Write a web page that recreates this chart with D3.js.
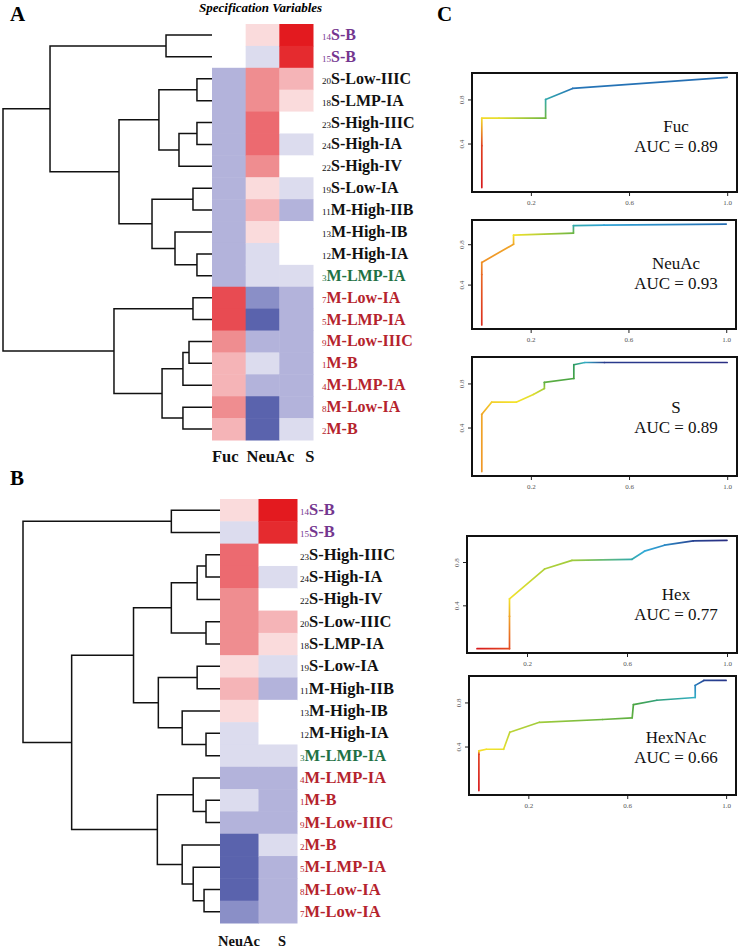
<!DOCTYPE html>
<html><head><meta charset="utf-8">
<script src="https://cdn.jsdelivr.net/npm/d3@7"></script>
<style>
body{margin:0;background:#fff;}
svg{display:block;font-family:"Liberation Serif","Times New Roman",serif;}
</style></head><body>
<svg id="fig" width="740" height="949"></svg>
<script>
// ---------------- DATA ----------------
// Panel A heatmap (levels: negative = blue, positive = red, 0 = white, null = empty)
const columnsA = ["Fuc", "NeuAc", "S"];
const rowNumsA = [14, 15, 20, 18, 23, 24, 22, 19, 11, 13, 12, 3, 7, 5, 9, 1, 4, 8, 2];
const rowNamesA = ["S-B", "S-B", "S-Low-IIIC", "S-LMP-IA", "S-High-IIIC", "S-High-IA", "S-High-IV", "S-Low-IA",
  "M-High-IIB", "M-High-IB", "M-High-IA", "M-LMP-IA", "M-Low-IA", "M-LMP-IA", "M-Low-IIIC", "M-B", "M-LMP-IA", "M-Low-IA", "M-B"];
const fucA   = [null, null, -2, -2, -2, -2, -2, -2, -2, -2, -2, -2, 5, 5, 3, 2, 2, 3, 2];
const neuAcA = [1, -1, 3, 3, 4, 4, 3, 1, 2, 1, -1, -1, -3, -4, -2, -1, -2, -4, -4];
const sA     = [7, 6, 2, 1, 0, -1, 0, -1, -2, 0, 0, -1, -2, -2, -2, -2, -2, -2, -1];
// hclust-style merges: negative = leaf (row index + 1), positive = earlier merge step; third = height
const mergeA = [
  [-1, -2, 2.2], [-3, -4, 0.72], [-5, -6, 0.72], [3, -7, 1.58], [2, 4, 2.54],
  [-8, -9, 0.91], [-11, -12, 0.72], [-10, 7, 1.77], [6, 8, 2.87], [5, 9, 4.45],
  [1, 10, 7.75], [-13, -14, 0.91], [-15, -16, 1.1], [13, -17, 1.39], [-18, -19, 1.39],
  [14, 15, 2.39], [12, 16, 4.69], [11, 17, 10.0]
];

// Panel B heatmap
const columnsB = ["NeuAc", "S"];
const rowNumsB = [14, 15, 23, 24, 22, 20, 18, 19, 11, 13, 12, 3, 4, 1, 9, 2, 5, 8, 7];
const rowNamesB = ["S-B", "S-B", "S-High-IIIC", "S-High-IA", "S-High-IV", "S-Low-IIIC", "S-LMP-IA", "S-Low-IA",
  "M-High-IIB", "M-High-IB", "M-High-IA", "M-LMP-IA", "M-LMP-IA", "M-B", "M-Low-IIIC", "M-B", "M-LMP-IA", "M-Low-IA", "M-Low-IA"];
const neuAcB = [1, -1, 4, 4, 3, 3, 3, 1, 2, 1, -1, -1, -2, -1, -2, -4, -4, -4, -3];
const sB     = [7, 6, 0, -1, 0, 2, 1, -1, -2, 0, 0, -1, -2, -2, -2, -1, -2, -2, -2];
const mergeB = [
  [-1, -2, 2.47], [-3, -4, 0.71], [2, -5, 1.16], [-6, -7, 0.71], [3, 4, 2.47],
  [-8, -9, 1.16], [-11, -12, 0.71], [-10, 7, 1.92], [6, 8, 3.13], [5, 9, 4.39],
  [-14, -15, 0.71], [-13, 11, 1.36], [-18, -19, 0.81], [-17, 13, 1.36], [-16, 14, 1.92],
  [12, 15, 3.18], [10, 16, 7.53], [1, 17, 10.0]
];

// sample groups (label colours)
const purpleSamples = [14, 15];
const greenSamples = [3];
const redSamples = [1, 2, 4, 5, 7, 8, 9];

// Panel C ROC curves
const rocNames = ["Fuc", "NeuAc", "S", "Hex", "HexNAc"];
const rocAUC = [0.89, 0.93, 0.89, 0.77, 0.66];
const rocXTicks = [0.2, 0.6, 1.0];
const rocYTicks = [0.4, 0.8];

const fprFuc = [0, 0, 0, 0.07, 0.26, 0.26, 0.37, 1.0];
const tprFuc = [0, 0.38, 0.63, 0.63, 0.63, 0.80, 0.90, 1.0];
const cutFuc = [0, 0.04, 0.28, 0.32, 0.5, 0.68, 0.84, 0.86];

const fprNeuAc = [0, 0, 0, 0.13, 0.13, 0.375, 0.375, 0.5, 1.0];
const tprNeuAc = [0, 0.5, 0.62, 0.80, 0.89, 0.91, 0.985, 0.99, 1.0];
const cutNeuAc = [0.02, 0.08, 0.14, 0.18, 0.3, 0.5, 0.68, 0.75, 0.86];

const fprS = [0, 0, 0.04, 0.14, 0.21, 0.255, 0.255, 0.375, 0.375, 0.42, 0.5, 1.0];
const tprS = [0, 0.52, 0.63, 0.63, 0.70, 0.755, 0.81, 0.845, 0.97, 0.99, 0.99, 0.99];
const cutS = [0.15, 0.18, 0.26, 0.3, 0.33, 0.42, 0.52, 0.56, 0.62, 0.7, 0.97, 1.0];

const fprHex = [0, 0.13, 0.13, 0.13, 0.27, 0.38, 0.62, 0.67, 0.75, 0.865, 1.0];
const tprHex = [0, 0, 0.3, 0.46, 0.735, 0.815, 0.825, 0.9, 0.955, 0.995, 1.0];
const cutHex = [0, 0.05, 0.18, 0.3, 0.4, 0.42, 0.68, 0.74, 0.8, 0.95, 1.0];

const fprHexNAc = [0, 0, 0, 0.03, 0.10, 0.125, 0.245, 0.5, 0.62, 0.625, 0.72, 0.875, 0.875, 0.91, 1.0];
const tprHexNAc = [0, 0.33, 0.36, 0.375, 0.375, 0.53, 0.62, 0.645, 0.66, 0.78, 0.82, 0.845, 0.955, 1.0, 1.0];
const cutHexNAc = [0, 0.04, 0.28, 0.3, 0.32, 0.38, 0.42, 0.5, 0.52, 0.55, 0.64, 0.7, 0.82, 0.94, 0.98];

// ---------------- DRAWING ----------------
const svg = d3.select("#fig");
const defs = svg.append("defs");

const heatColor = d3.scaleLinear()
  .domain([-4, -3, -2, -1, 0, 1, 2, 3, 4, 5, 6, 7])
  .range(["#5a63ad", "#8a8fc7", "#b3b3db", "#dcdcee", "#ffffff", "#fadbdc", "#f5b4b7",
          "#ef8d90", "#ec6a70", "#e84b52", "#e52b2f", "#e31a1f"]);

function labelColor(n) {
  if (purpleSamples.includes(n)) return "#74368f";
  if (greenSamples.includes(n)) return "#1f7145";
  if (redSamples.includes(n)) return "#b5232d";
  return "#111";
}

function drawHeatPanel(cfg) {
  const g = svg.append("g");
  const x = d3.scaleBand().domain(cfg.columns).range(cfg.xRange);
  const y = d3.scaleBand().domain(d3.range(cfg.nums.length)).range(cfg.yRange);
  cfg.columns.forEach((c, ci) => {
    const vals = cfg.values[ci];
    g.selectAll(null).data(vals.map((v, i) => ({v, i})).filter(d => d.v !== null))
      .enter().append("rect")
      .attr("x", x(c)).attr("y", d => y(d.i))
      .attr("width", x.bandwidth() + 0.5).attr("height", y.bandwidth() + 0.5)
      .attr("fill", d => heatColor(d.v));
  });
  // row labels
  const lab = g.selectAll(null).data(cfg.nums).enter().append("text")
    .attr("x", cfg.labelX).attr("y", (d, i) => y(i) + y.bandwidth() / 2 + 5)
    .attr("fill", d => labelColor(d));
  lab.append("tspan").attr("font-size", 9).text(d => d);
  lab.append("tspan").attr("font-size", cfg.labelSize).attr("font-weight", "bold")
    .text((d, i) => cfg.names[i]);
  // dendrogram
  const hx = d3.scaleLinear().domain([0, 10]).range(cfg.dendroRange);
  const yc = i => y(i) + y.bandwidth() / 2;
  const pos = [];
  const nodePos = id => id < 0 ? {x: hx(0), y: yc(-id - 1)} : pos[id - 1];
  let dstr = "";
  cfg.merges.forEach(([a, b, h]) => {
    const pa = nodePos(a), pb = nodePos(b), xm = hx(h);
    dstr += `M${pa.x},${pa.y}H${xm}V${pb.y}H${pb.x}`;
    pos.push({x: xm, y: (pa.y + pb.y) / 2});
  });
  g.append("path").attr("d", dstr).attr("fill", "none")
    .attr("stroke", "#111").attr("stroke-width", 1.5);
  // column labels
  const ct = g.append("text").attr("x", cfg.colLabelX).attr("y", cfg.colLabelY)
    .attr("font-weight", "bold").attr("font-size", cfg.colLabelSize).attr("fill", "#111");
  cfg.columns.forEach((c, i) => {
    ct.append("tspan").attr("dx", i === 0 ? 0 : cfg.colLabelGaps[i - 1]).text(c);
  });
}

drawHeatPanel({
  columns: columnsA, nums: rowNumsA, names: rowNamesA, values: [fucA, neuAcA, sA],
  merges: mergeA, xRange: [212, 313], yRange: [24, 440], labelX: 322, labelSize: 16,
  dendroRange: [212, 3], colLabelX: 212, colLabelY: 462, colLabelSize: 16.5, colLabelGaps: [8, 11]
});
drawHeatPanel({
  columns: columnsB, nums: rowNumsB, names: rowNamesB, values: [neuAcB, sB],
  merges: mergeB, xRange: [220, 297], yRange: [499, 923], labelX: 300, labelSize: 16.5,
  dendroRange: [220, 23], colLabelX: 218, colLabelY: 946, colLabelSize: 14.5, colLabelGaps: [18]
});

// panel letters and title
svg.append("text").attr("x", 10).attr("y", 21).attr("font-size", 21).attr("font-weight", "bold").text("A");
svg.append("text").attr("x", 10).attr("y", 485).attr("font-size", 21).attr("font-weight", "bold").text("B");
svg.append("text").attr("x", 437).attr("y", 21).attr("font-size", 21).attr("font-weight", "bold").text("C");
svg.append("text").attr("x", 199).attr("y", 12).attr("font-size", 13).attr("font-weight", "bold")
  .attr("font-style", "italic").text("Specification Variables");

// ROC panels
const rocPalette = d3.scaleLinear()
  .domain([0, 0.1, 0.3, 0.45, 0.6, 0.72, 0.85, 1.0])
  .range(["#d7191c", "#ee7d26", "#f4e32b", "#8cc63f", "#2e9645", "#35b4e0", "#2470b4", "#2a2e83"]);

const rocData = [
  [fprFuc, tprFuc, cutFuc], [fprNeuAc, tprNeuAc, cutNeuAc], [fprS, tprS, cutS],
  [fprHex, tprHex, cutHex], [fprHexNAc, tprHexNAc, cutHexNAc]
];
const frames = [
  {l: 472, r: 737, t: 73, b: 192, ty: 132},
  {l: 472, r: 736, t: 220, b: 329, ty: 269},
  {l: 472, r: 737, t: 357, b: 476, ty: 413},
  {l: 467, r: 737, t: 536, b: 653, ty: 600},
  {l: 469, r: 736, t: 676, b: 795, ty: 743}
];

rocData.forEach(([fpr, tpr, cut], k) => {
  const f = frames[k];
  const g = svg.append("g");
  const x = d3.scaleLinear().domain([-0.04, 1.04]).range([f.l, f.r]);
  const y = d3.scaleLinear().domain([-0.04, 1.04]).range([f.b, f.t]);
  // axes
  const ax = g.append("g").attr("transform", `translate(0,${f.b})`)
    .call(d3.axisBottom(x).tickValues(rocXTicks).tickSize(4).tickPadding(4).tickFormat(d3.format(".1f")));
  ax.select(".domain").remove();
  ax.selectAll("text").attr("font-size", 7).attr("fill", "#555").attr("font-family", "Liberation Serif");
  ax.selectAll("line").attr("stroke", "#222");
  const ay = g.append("g").attr("transform", `translate(${f.l},0)`)
    .call(d3.axisLeft(y).tickValues(rocYTicks).tickSize(4).tickFormat(d3.format(".1f")));
  ay.select(".domain").remove();
  ay.selectAll("line").attr("stroke", "#222");
  ay.selectAll("text").attr("font-size", 7).attr("fill", "#555").attr("font-family", "Liberation Serif")
    .attr("transform", "rotate(-90)").attr("x", 0).attr("y", -8).attr("dy", 0).attr("text-anchor", "middle");
  // curve segments with gradient colouring
  for (let i = 0; i < fpr.length - 1; i++) {
    const id = `g${k}_${i}`;
    const x1 = x(fpr[i]), y1 = y(tpr[i]), x2 = x(fpr[i + 1]), y2 = y(tpr[i + 1]);
    const lg = defs.append("linearGradient").attr("id", id).attr("gradientUnits", "userSpaceOnUse")
      .attr("x1", x1).attr("y1", y1).attr("x2", x2 === x1 && y2 === y1 ? x2 + 1 : x2).attr("y2", y2);
    lg.append("stop").attr("offset", 0).attr("stop-color", rocPalette(cut[i]));
    lg.append("stop").attr("offset", 1).attr("stop-color", rocPalette(cut[i + 1]));
    g.append("line").attr("x1", x1).attr("y1", y1).attr("x2", x2).attr("y2", y2)
      .attr("stroke", `url(#${id})`).attr("stroke-width", 1.7).attr("stroke-linecap", "round");
  }
  // frame
  g.append("rect").attr("x", f.l).attr("y", f.t).attr("width", f.r - f.l).attr("height", f.b - f.t)
    .attr("fill", "none").attr("stroke", "#111").attr("stroke-width", 2);
  // labels
  g.append("text").attr("x", 676).attr("y", f.ty).attr("text-anchor", "middle")
    .attr("font-size", 17).attr("fill", "#111").text(rocNames[k]);
  g.append("text").attr("x", 676).attr("y", f.ty + 20).attr("text-anchor", "middle")
    .attr("font-size", 17).attr("fill", "#111").text(`AUC = ${rocAUC[k].toFixed(2)}`);
});
</script>
</body></html>
